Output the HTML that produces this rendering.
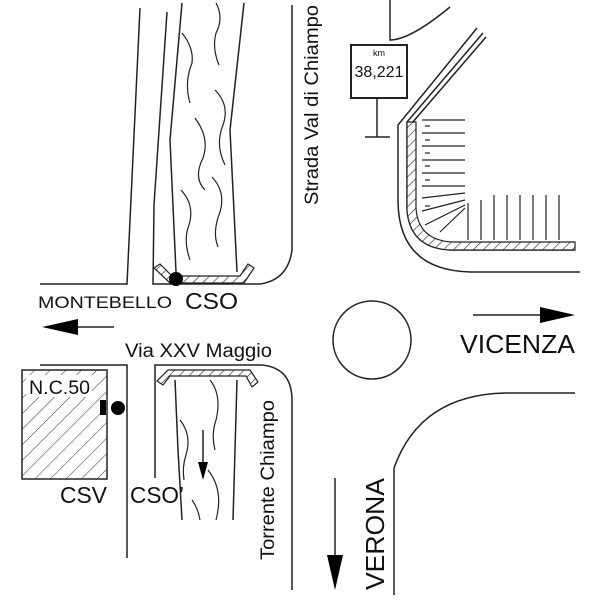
<!DOCTYPE html>
<html><head><style>body{margin:0;background:#fff}svg{display:block}text{font-family:"Liberation Sans",sans-serif;fill:#111}</style></head><body>
<svg width="600" height="600" viewBox="0 0 600 600" xmlns="http://www.w3.org/2000/svg">
<defs>
<pattern id="h" width="7" height="7" patternUnits="userSpaceOnUse" patternTransform="rotate(45)"><rect width="7" height="7" fill="#fff"/><line x1="0" y1="0" x2="0" y2="7" stroke="#222" stroke-width="1.2"/></pattern>
<pattern id="h2" width="11" height="11" patternUnits="userSpaceOnUse" patternTransform="rotate(45)"><rect width="11" height="11" fill="#fff"/><line x1="0" y1="0" x2="0" y2="11" stroke="#333" stroke-width="1"/></pattern>
</defs>
<g fill="none" stroke="#222" stroke-width="1.5">
<polyline points="140,8 127,284 40,284"/>
<path d="M167,12 L154,205 L153,284 L260,284 Q288,280 292,250 L292,5"/>
<path d="M182,3 L170,140 L176,272"/>
<path d="M244,3 L230,130 L237,272"/>
<path d="M182,33 q12,15 10,30 q-8,20 -2,40" stroke-width="1.2"/>
<path d="M216,3 q8,15 0,30 q-4,15 3,32" stroke-width="1.2"/>
<path d="M215,90 q15,15 8,35 q-8,20 2,40" stroke-width="1.2"/>
<path d="M195,118 q15,20 8,40 q-10,20 2,32" stroke-width="1.2"/>
<path d="M212,177 q14,15 8,35 q-8,20 -2,35" stroke-width="1.2"/>
<path d="M181,190 q14,15 8,35 q-6,15 1,35" stroke-width="1.2"/>
<path d="M390,0 L390,40 Q410,40 450,7"/>
<path d="M477,28 L398,125 L398,200 Q398,270 470,272 L580,272"/>
<path d="M483,33 L407,122 L407,210 Q410,248 450,250 L575,250"/>
<path d="M486,37 L412,123"/>
<line x1="377" y1="98" x2="377" y2="137"/><line x1="365" y1="137" x2="390" y2="137"/>
</g>
<path d="M407,122 L416,122 L416,208 Q418,240 452,242 L575,242 L575,250 L450,250 Q410,248 407,210 Z" fill="url(#h)" stroke="#222" stroke-width="1.2"/>
<g stroke="#222" stroke-width="1.2">
<line x1="422" y1="120" x2="465" y2="120"/><line x1="422" y1="133" x2="465" y2="133"/><line x1="422" y1="146" x2="465" y2="146"/><line x1="422" y1="160" x2="465" y2="160"/><line x1="422" y1="173" x2="465" y2="173"/><line x1="422" y1="186" x2="465" y2="186"/><line x1="422" y1="198" x2="465" y2="193"/><line x1="422" y1="211" x2="465" y2="200"/><line x1="425" y1="225" x2="465" y2="205"/><line x1="440" y1="232" x2="465" y2="208"/>
<line x1="425" y1="126" x2="430" y2="126"/><line x1="425" y1="140" x2="430" y2="140"/><line x1="425" y1="153" x2="430" y2="153"/><line x1="425" y1="166" x2="430" y2="166"/><line x1="425" y1="180" x2="430" y2="180"/><line x1="425" y1="206" x2="430" y2="206"/>
<line x1="468" y1="203" x2="468" y2="240"/><line x1="481" y1="200" x2="481" y2="240"/><line x1="494" y1="195" x2="494" y2="240"/><line x1="507" y1="195" x2="507" y2="240"/><line x1="520" y1="195" x2="520" y2="240"/><line x1="533" y1="195" x2="533" y2="240"/><line x1="546" y1="195" x2="546" y2="240"/><line x1="559" y1="195" x2="559" y2="240"/>
</g>
<rect x="351" y="45" width="56" height="53" fill="#fff" stroke="#222" stroke-width="2"/>
<text x="379" y="56" font-size="9" text-anchor="middle">km</text>
<text x="379" y="77" font-size="16" text-anchor="middle">38,221</text>
<path d="M154,268 L160,264 L172,276 L240,276 L248,264 L254,268 L244,283 L170,283 Z" fill="url(#h)" stroke="#222" stroke-width="1.2"/>
<circle cx="176" cy="279" r="7" fill="#000"/>
<text x="318" y="205" font-size="19" transform="rotate(-90 318 205)" textLength="200" lengthAdjust="spacingAndGlyphs">Strada Val di Chiampo</text>
<text x="38" y="308" font-size="17" textLength="134" lengthAdjust="spacingAndGlyphs">MONTEBELLO</text>
<text x="185" y="309" font-size="23" textLength="53" lengthAdjust="spacingAndGlyphs">CSO</text>
<line x1="55" y1="327" x2="114" y2="327" stroke="#222" stroke-width="1.5"/>
<polygon points="42,327 78,319 78,335" fill="#000"/>
<text x="125" y="357" font-size="19" textLength="147" lengthAdjust="spacingAndGlyphs">Via XXV Maggio</text>
<circle cx="372" cy="340" r="39" fill="none" stroke="#222" stroke-width="1.5"/>
<line x1="473" y1="315" x2="550" y2="315" stroke="#222" stroke-width="1.5"/>
<polygon points="575,315 540,307 540,323" fill="#000"/>
<text x="460" y="353" font-size="26" textLength="115" lengthAdjust="spacingAndGlyphs">VICENZA</text>
<g fill="none" stroke="#222" stroke-width="1.5">
<polyline points="40,365 127,365 127,558"/>
<path d="M155,478 L155,365 L262,365 Q292,368 292,400 L292,590"/>
<path d="M175,380 L178,450 L182,520"/>
<path d="M237,380 L235,450 L233,520"/>
<path d="M394,595 L394,468 Q420,395 505,393 L575,393"/>
<path d="M210,380 q12,15 6,40 q-5,15 -1,30" stroke-width="1.2"/>
<path d="M180,420 q12,15 6,35 q-4,12 -2,25" stroke-width="1.2"/>
<path d="M208,470 q16,20 8,50" stroke-width="1.2"/>
<path d="M192,500 q6,8 8,20" stroke-width="1.2"/>
</g>
<path d="M157,381 L163,385 L170,376 L246,376 L252,387 L258,382 L250,370 L168,370 Z" fill="url(#h)" stroke="#222" stroke-width="1.2"/>
<line x1="203" y1="430" x2="203" y2="470" stroke="#222" stroke-width="1.5"/>
<polygon points="203,480 198,462 208,462" fill="#000"/>
<rect x="22" y="370" width="85" height="109" fill="url(#h2)" stroke="#222" stroke-width="1.5"/>
<rect x="26" y="375" width="66" height="22" fill="#fff"/>
<text x="29" y="394" font-size="19" textLength="61" lengthAdjust="spacingAndGlyphs">N.C.50</text>
<rect x="100" y="400" width="6" height="15" fill="#000"/>
<circle cx="118" cy="408" r="7" fill="#000"/>
<text x="60" y="503" font-size="23" textLength="47" lengthAdjust="spacingAndGlyphs">CSV</text>
<text x="130" y="503" font-size="23" textLength="54" lengthAdjust="spacingAndGlyphs">CSO’</text>
<text x="274" y="560" font-size="19" transform="rotate(-90 274 560)" textLength="160" lengthAdjust="spacingAndGlyphs">Torrente Chiampo</text>
<text x="384" y="590" font-size="26" transform="rotate(-90 384 590)" textLength="112" lengthAdjust="spacingAndGlyphs">VERONA</text>
<line x1="335" y1="478" x2="335" y2="560" stroke="#222" stroke-width="1.5"/>
<polygon points="335,590 327,555 343,555" fill="#000"/>
</svg>
</body></html>
